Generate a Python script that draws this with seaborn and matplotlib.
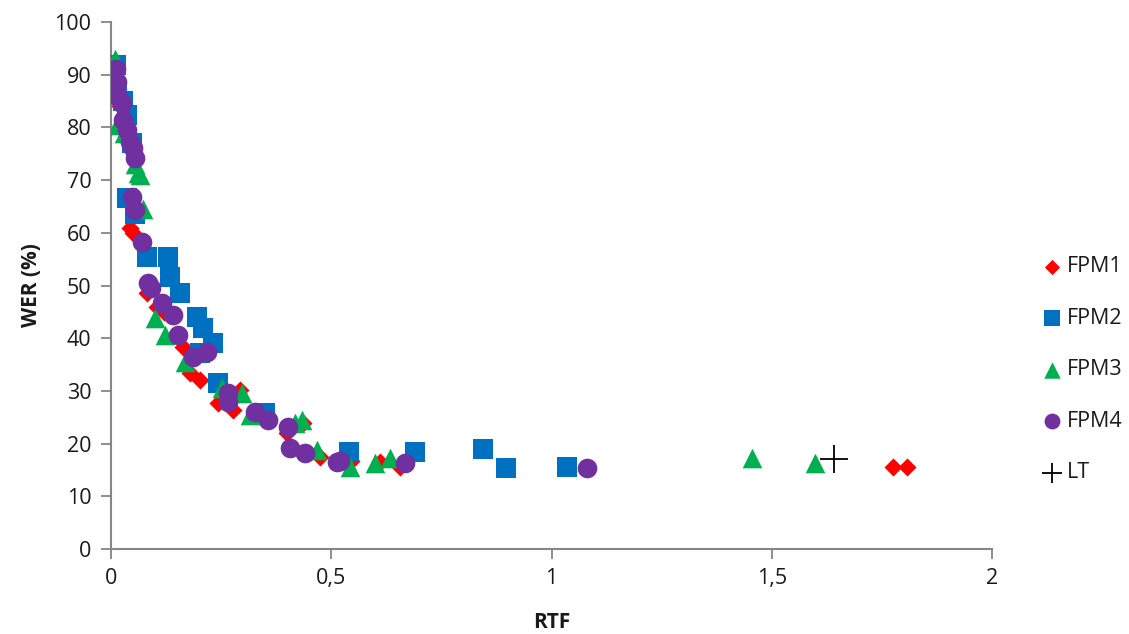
import matplotlib
matplotlib.use("Agg")
import matplotlib.pyplot as plt
import seaborn as sns
import pandas as pd

# ---- data ----
fpm1_x = [0.01, 0.02, 0.03, 0.043, 0.05, 0.082, 0.104, 0.12, 0.163, 0.179, 0.202, 0.243,
          0.277, 0.293, 0.40, 0.436, 0.474, 0.545, 0.61, 0.656, 1.775, 1.807]
fpm1_y = [88, 84, 80, 61, 60, 48.6, 46, 45, 38.3, 33.4, 32, 27.7,
          26.4, 30.2, 22, 23.9, 17.5, 16.7, 16.5, 15.5, 15.6, 15.6]

fpm2_x = [0.011, 0.013, 0.028, 0.036, 0.047, 0.036, 0.054, 0.082, 0.129, 0.134, 0.157,
          0.195, 0.209, 0.232, 0.202, 0.243, 0.35, 0.54, 0.69, 0.845, 0.897, 1.035]
fpm2_y = [91.8, 86.5, 85, 82.3, 77, 66.6, 63.5, 55.4, 55.4, 51.6, 48.6,
          44, 42, 39, 37.2, 31.5, 25.8, 18.4, 18.4, 19, 15.4, 15.6]

fpm3_x = [0.009, 0.005, 0.013, 0.03, 0.055, 0.061, 0.065, 0.073, 0.10, 0.123, 0.168,
          0.252, 0.297, 0.316, 0.418, 0.434, 0.468, 0.543, 0.60, 0.633, 1.455, 1.598]
fpm3_y = [93, 88, 80.5, 79, 73, 71.3, 71, 64.5, 43.8, 40.6, 35.5,
          30.5, 29.6, 25.5, 23.9, 24.5, 18.8, 15.6, 16.3, 17.3, 17.3, 16.3]

fpm4_x = [0.011, 0.013, 0.017, 0.025, 0.028, 0.036, 0.043, 0.05, 0.054, 0.047, 0.054,
          0.07, 0.084, 0.09, 0.116, 0.141, 0.152, 0.186, 0.218, 0.266, 0.266, 0.327,
          0.356, 0.402, 0.406, 0.44, 0.513, 0.52, 0.667, 1.08]
fpm4_y = [91, 88.6, 85.8, 84.6, 81.4, 79.5, 77.2, 76, 74.2, 66.8, 64.3,
          58.3, 50.5, 49.5, 46.7, 44.4, 40.6, 36.4, 37.4, 29.6, 27.9, 26,
          24.5, 23.2, 19.2, 18.2, 16.5, 16.8, 16.3, 15.4]

lt_x = [1.641]
lt_y = [17.1]

series_names = ["FPM1", "FPM2", "FPM3", "FPM4", "LT"]
x_ticks = [0, 0.5, 1, 1.5, 2]
x_tick_labels = ["0", "0,5", "1", "1,5", "2"]
y_ticks = list(range(0, 101, 10))

# ---- style ----
sns.set_theme(style="white")
plt.rcParams["font.family"] = ["Open Sans", "DejaVu Sans"]

fig = plt.figure(figsize=(11.29, 6.34), dpi=100)
ax = fig.add_axes([0.0983, 0.134, 0.7804, 0.8313])

xs = [fpm1_x, fpm2_x, fpm3_x, fpm4_x, lt_x]
ys = [fpm1_y, fpm2_y, fpm3_y, fpm4_y, lt_y]
colors = ["#FF0000", "#0070C0", "#00B050", "#7030A0", "#000000"]
markers = ["D", "s", "^", "o", "+"]
sizes = [85, 190, 200, 200, 380]
legend_sizes = [60, 120, 140, 130, 200]

for name, x, y, c, m, s in zip(series_names, xs, ys, colors, markers, sizes):
    df = pd.DataFrame({"RTF": x, "WER": y})
    if m == "+":
        sns.scatterplot(data=df, x="RTF", y="WER", ax=ax, color=c, marker=m, s=s,
                        linewidth=1.3, label=name, zorder=3)
    else:
        sns.scatterplot(data=df, x="RTF", y="WER", ax=ax, color=c, marker=m, s=s,
                        linewidth=0, label=name, zorder=3)

ax.set_xlim(0, 2)
ax.set_ylim(0, 100)
ax.set_xticks(x_ticks)
ax.set_xticklabels(x_tick_labels)
ax.set_yticks(y_ticks)

for side in ["top", "right"]:
    ax.spines[side].set_visible(False)
for side in ["left", "bottom"]:
    ax.spines[side].set_color("#868686")
    ax.spines[side].set_linewidth(1.5)
ax.spines["left"].set_zorder(1)
ax.spines["bottom"].set_zorder(1)

ax.tick_params(axis="both", which="major", direction="out", length=7, width=1.3,
               color="#868686", labelsize=15.5, labelcolor="#1a1a1a", pad=7,
               left=True, bottom=True)

ax.set_xlabel("RTF", fontsize=15, fontweight="bold", color="#1a1a1a", labelpad=16)
ax.set_ylabel("WER (%)", fontsize=15, fontweight="bold", color="#1a1a1a", labelpad=9)

leg = ax.legend(loc="center left", bbox_to_anchor=(1.03, 0.34), frameon=False,
                fontsize=15.5, labelspacing=1.42, handletextpad=0.05, handlelength=1.3)
for t in leg.get_texts():
    t.set_color("#1a1a1a")
for h, s in zip(leg.legend_handles, legend_sizes):
    h.set_sizes([s])

fig.savefig("out.png", dpi=100)
